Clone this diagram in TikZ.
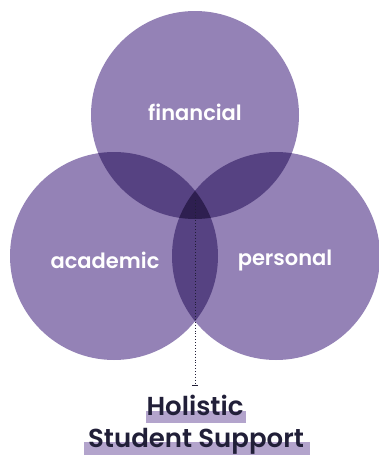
\documentclass[tikz,border=0pt]{standalone}
\usepackage{fontspec}
\setmainfont{Poppins}
\newfontfamily\lblfont{Poppins SemiBold}
\definecolor{ring}{RGB}{148,130,182}
\definecolor{ringtwo}{RGB}{86,66,130}
\definecolor{ringthree}{RGB}{46,31,80}
\definecolor{marker}{RGB}{179,164,204}
\definecolor{ink}{RGB}{33,31,56}
\tikzset{lbl/.style={text=white,font=\lblfont\fontsize{21}{21}\selectfont},
  ttl/.style={text=ink,font=\lblfont\fontsize{26}{26}\selectfont,anchor=base,inner sep=0pt}}
\newcommand{\rad}{104pt}

\begin{document}
\begin{tikzpicture}[x=1pt,y=-1pt]
\useasboundingbox (0,0) rectangle (378,455);
\coordinate (f) at (195,115);
\coordinate (a) at (114,256);
\coordinate (p) at (276,256);
% the three rings and their overlaps
\foreach \cc in {f,a,p}
  \fill[ring] (\cc) circle (\rad);
\foreach \cc/\dd in {f/a,f/p,a/p}{
  \begin{scope}
    \clip (\cc) circle (\rad);
    \fill[ringtwo] (\dd) circle (\rad);
  \end{scope}}
\begin{scope}
  \clip (f) circle (\rad); \clip (a) circle (\rad);
  \fill[ringthree] (p) circle (\rad);
\end{scope}
\node[lbl] (fin) at (195,112) {financial};
\node[lbl] (aca) at (105,260) {academic};
\node[lbl] (per) at (285,260) {personal};
% pointer to the title
\coordinate (core) at (195,200);
\coordinate (tick) at (195,385);
\draw[ink,dotted,line width=0.9pt] (core) -- (tick);
\draw[ink,line width=1pt] ([xshift=-3pt]tick) -- ([xshift=3pt]tick);
\fill[marker] (146,411) rectangle (246,423);
\fill[marker] (84,442) rectangle (310,455);
\node[ttl] (hol) at (195,415) {Holistic};
\node[ttl] (sup) at (196,447) {Student Support};
\end{tikzpicture}
\end{document}
